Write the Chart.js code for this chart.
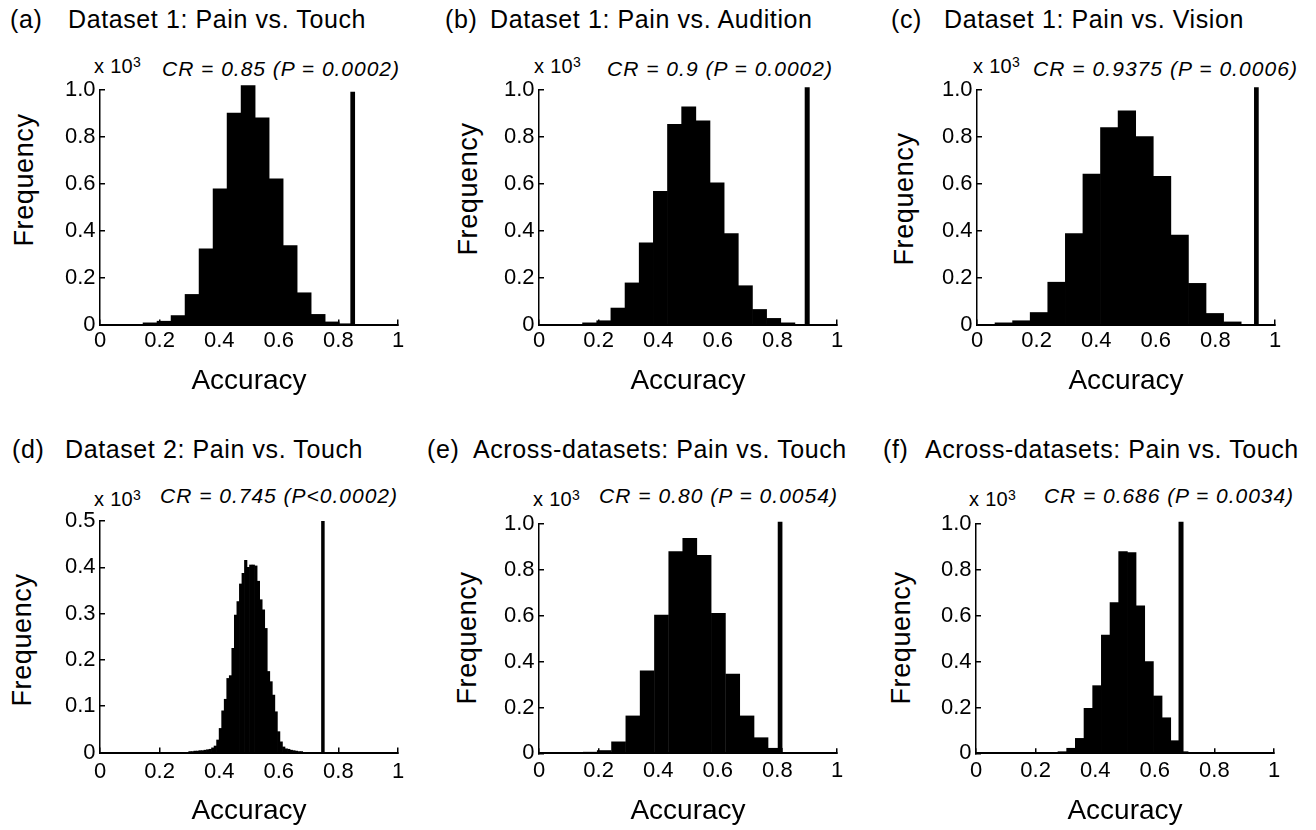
<!DOCTYPE html>
<html lang="en">
<head>
<meta charset="UTF-8">
<title>Permutation test: accuracy histograms</title>
<script src="https://cdn.jsdelivr.net/npm/chart.js"></script>
<style>
    html, body { margin: 0; padding: 0; background: #fff; }
    body {
        width: 1316px; height: 830px; position: relative; overflow: hidden;
        font-family: "Liberation Sans", Arial, sans-serif; color: #000;
    }
    .txt { position: absolute; white-space: pre; line-height: 1; }
    .panel-title { font-size: 25px; letter-spacing: 0.6px; }
    .scale-note { font-size: 20px; letter-spacing: 0.3px; }
    .scale-note span { position: relative; top: -0.45em; font-size: 14px; }
    .cr-note { font-size: 21px; font-style: italic; }
    .ylab { font-size: 27px; letter-spacing: 0.6px; transform: translate(-50%, -50%) rotate(-90deg); }
    .chart-box { position: absolute; width: 438px; height: 360px; }
</style>
</head>
<body>
<script>
    // ---- data (frequency in units of 10^3) ----
    const panelLetters = ['(a)', '(b)', '(c)', '(d)', '(e)', '(f)'];
    const panelTitles = [
        'Dataset 1: Pain vs. Touch',
        'Dataset 1: Pain vs. Audition',
        'Dataset 1: Pain vs. Vision',
        'Dataset 2: Pain vs. Touch',
        'Across-datasets: Pain vs. Touch',
        'Across-datasets: Pain vs. Touch'
    ];
    const crLabels = [
        'CR = 0.85 (P = 0.0002)',
        'CR = 0.9 (P = 0.0002)',
        'CR = 0.9375 (P = 0.0006)',
        'CR = 0.745 (P<0.0002)',
        'CR = 0.80 (P = 0.0054)',
        'CR = 0.686 (P = 0.0034)'
    ];
    const crValues = [0.848, 0.9, 0.9375, 0.748, 0.809, 0.688];
    const crTops = [0.99, 1.01, 1.01, 0.5, 1.01, 1.01];
    const yMaxes = [1, 1, 1, 0.5, 1, 1];

    const xTicks = [0, 0.2, 0.4, 0.6, 0.8, 1];
    const xTickLabels = ['0', '0.2', '0.4', '0.6', '0.8', '1'];
    const yTicks = [0, 0.2, 0.4, 0.6, 0.8, 1.0];
    const yTickLabels = ['0', '0.2', '0.4', '0.6', '0.8', '1.0'];
    const yTicksD = [0, 0.1, 0.2, 0.3, 0.4, 0.5];
    const yTickLabelsD = ['0', '0.1', '0.2', '0.3', '0.4', '0.5'];

    const binsA = [0.168, 0.215, 0.262, 0.309, 0.356, 0.403, 0.450, 0.497, 0.544, 0.591, 0.638, 0.685, 0.732, 0.779, 0.826];
    const freqA = [0.007, 0.014, 0.038, 0.128, 0.322, 0.577, 0.900, 1.017, 0.879, 0.620, 0.336, 0.135, 0.043, 0.011, 0.002];

    const binsB = [0.170, 0.2175, 0.265, 0.3125, 0.360, 0.4075, 0.455, 0.5025, 0.550, 0.5975, 0.645, 0.6925, 0.740, 0.7875, 0.835];
    const freqB = [0.007, 0.016, 0.070, 0.177, 0.348, 0.567, 0.852, 0.926, 0.867, 0.603, 0.387, 0.165, 0.064, 0.026, 0.007];

    const binsC = [0.090, 0.149, 0.208, 0.267, 0.326, 0.385, 0.444, 0.503, 0.562, 0.621, 0.680, 0.739, 0.798, 0.857];
    const freqC = [0.007, 0.016, 0.051, 0.180, 0.387, 0.640, 0.838, 0.909, 0.800, 0.630, 0.380, 0.175, 0.047, 0.011];

    const binsD = [0.302, 0.3105, 0.319, 0.3275, 0.336, 0.3445, 0.353, 0.3615, 0.370, 0.3785,
                   0.387, 0.3955, 0.404, 0.4125, 0.421, 0.4295, 0.438, 0.4465, 0.455, 0.4635,
                   0.472, 0.4805, 0.489, 0.4975, 0.506, 0.5145, 0.523, 0.5315, 0.540, 0.5485,
                   0.557, 0.5655, 0.574, 0.5825, 0.591, 0.5995, 0.608, 0.6165, 0.625, 0.6335,
                   0.642, 0.6505, 0.659, 0.6675, 0.676];
    const freqD = [0.002, 0.002, 0.003, 0.003, 0.004, 0.004, 0.005, 0.006, 0.007, 0.010,
                   0.014, 0.027, 0.052, 0.090, 0.115, 0.160, 0.166, 0.225, 0.297, 0.326,
                   0.364, 0.387, 0.415, 0.400, 0.405, 0.405, 0.403, 0.370, 0.330, 0.308,
                   0.268, 0.175, 0.153, 0.124, 0.088, 0.045, 0.023, 0.012, 0.008, 0.007,
                   0.005, 0.004, 0.003, 0.002, 0.002];

    const binsE = [0.124, 0.172, 0.219, 0.267, 0.315, 0.363, 0.411, 0.459, 0.506, 0.554, 0.602, 0.650, 0.698, 0.745, 0.793, 0.841, 0.889];
    const freqE = [0.002, 0.005, 0.012, 0.050, 0.163, 0.360, 0.603, 0.880, 0.937, 0.863, 0.610, 0.346, 0.163, 0.068, 0.022, 0.004, 0.002];

    const binsF = [0.2606, 0.2897, 0.3188, 0.3479, 0.3770, 0.4061, 0.4352, 0.4643, 0.4934, 0.5225, 0.5516, 0.5807, 0.6098, 0.6389, 0.6680, 0.6971, 0.7262];
    const freqF = [0.003, 0.007, 0.022, 0.065, 0.196, 0.295, 0.516, 0.657, 0.880, 0.875, 0.643, 0.400, 0.250, 0.155, 0.055, 0.007, 0.003];

    const allBins = [binsA, binsB, binsC, binsD, binsE, binsF];
    const allFreqs = [freqA, freqB, freqC, freqD, freqE, freqF];

    // ---- page layout (pixels) ----
    const FONT = '"Liberation Sans", Arial, sans-serif';
    const TICK_SIZE = 22;
    const ACC_SIZE = 28;
    const plotLeft = [100, 539, 977, 100, 539, 976];
    const plotTop = [89.5, 89.5, 89.5, 521, 524, 524];
    const plotBottom = [324.5, 324.5, 324.5, 752.5, 753.3, 753.3];
    const boxTop = [40, 40, 40, 470, 470, 470];
    const accCenter = [381, 381, 381, 811.5, 811, 811];
    const xLabelCenter = [16.5, 16.5, 16.5, 19, 17.5, 17.5];
    const crWidths = [4.7, 5, 4.7, 3.5, 4.7, 5];

    const titlePos = [[10, 68, 28], [445, 490, 28], [891, 944, 28], [12, 65, 458], [427, 473, 458], [883, 925, 458]];
    const notePos = [[94, 73], [534, 73], [973, 73], [94, 506], [533, 506], [969, 506]];
    const crPos = [[162, 76, 238], [607, 76, 226], [1033, 76, 265], [160, 503, 238], [599, 503, 239], [1044, 503, 250]];
    const freqPos = [[24, 180], [467.5, 189], [903.5, 199], [22, 640], [467, 638], [901, 638]];

    function addText(cls, text, left, baseline, size) {
        const el = document.createElement('div');
        el.className = 'txt ' + cls;
        el.textContent = text;
        el.style.left = left + 'px';
        el.style.top = (baseline - 0.8465 * size) + 'px';
        document.body.appendChild(el);
        return el;
    }

    function makePanel(i) {
        // texts
        addText('panel-title', panelLetters[i], titlePos[i][0], titlePos[i][2], 25);
        addText('panel-title', panelTitles[i], titlePos[i][1], titlePos[i][2], 25);
        const note = addText('scale-note', 'x 10', notePos[i][0], notePos[i][1], 20);
        const sup = document.createElement('span');
        sup.textContent = '3';
        note.appendChild(sup);
        const cr = addText('cr-note', crLabels[i], crPos[i][0], crPos[i][1], 21);
        cr.dataset.w = crPos[i][2];

        const yl = document.createElement('div');
        yl.className = 'txt ylab';
        yl.textContent = 'Frequency';
        yl.style.left = freqPos[i][0] + 'px';
        yl.style.top = freqPos[i][1] + 'px';
        document.body.appendChild(yl);

        // chart
        const box = document.createElement('div');
        box.className = 'chart-box';
        box.style.left = (plotLeft[i] - 100) + 'px';
        box.style.top = boxTop[i] + 'px';
        const canvas = document.createElement('canvas');
        box.appendChild(canvas);
        document.body.appendChild(box);

        const axisBottom = accCenter[i] + ACC_SIZE * 1.2 / 2;
        const xH = axisBottom - plotBottom[i];
        const isD = i === 3;
        const yT = isD ? yTicksD : yTicks;
        const yL = isD ? yTickLabelsD : yTickLabels;

        new Chart(canvas, {
            type: 'bar',
            data: {
                datasets: [
                    {
                        type: 'line',
                        data: [{ x: crValues[i], y: 0 }, { x: crValues[i], y: crTops[i] }],
                        borderColor: '#000',
                        borderWidth: crWidths[i],
                        borderCapStyle: 'butt',
                        pointRadius: 0,
                        clip: false,
                        order: 0
                    },
                    {
                        type: 'bar',
                        data: allBins[i].map((x, k) => ({ x: x, y: allFreqs[i][k] })),
                        backgroundColor: '#000',
                        borderWidth: 0,
                        barPercentage: 1,
                        categoryPercentage: 1,
                        grouped: false,
                        clip: false,
                        order: 1
                    }
                ]
            },
            options: {
                responsive: true,
                maintainAspectRatio: false,
                animation: false,
                events: [],
                layout: {
                    padding: {
                        left: 0,
                        right: 438 - 100 - 298,
                        top: plotTop[i] - boxTop[i],
                        bottom: boxTop[i] + 360 - axisBottom
                    }
                },
                plugins: { legend: { display: false }, tooltip: { enabled: false } },
                scales: {
                    x: {
                        type: 'linear',
                        min: 0,
                        max: 1,
                        offset: false,
                        afterBuildTicks: s => { s.ticks = xTicks.map(v => ({ value: v })); },
                        afterFit: s => { s.height = xH; },
                        grid: { offset: false, drawOnChartArea: false, drawTicks: true, tickLength: -5, color: '#000', lineWidth: 1.5 },
                        border: { display: true, color: '#000', width: 2 },
                        ticks: {
                            color: '#000',
                            font: { family: FONT, size: TICK_SIZE },
                            // label centre sits xLabelCenter px below the axis (tick marks point inward)
                            padding: xLabelCenter[i] - TICK_SIZE * 1.2 / 2 + 5,
                            maxRotation: 0,
                            autoSkip: false,
                            callback: (v, k) => xTickLabels[k]
                        },
                        title: {
                            display: true,
                            text: 'Accuracy',
                            color: '#000',
                            font: { family: FONT, size: ACC_SIZE },
                            padding: 0
                        }
                    },
                    y: {
                        type: 'linear',
                        min: 0,
                        max: yMaxes[i],
                        afterBuildTicks: s => { s.ticks = yT.map(v => ({ value: v })); },
                        afterFit: s => { s.width = 100; },
                        grid: { offset: false, drawOnChartArea: false, drawTicks: true, tickLength: -5, color: '#000', lineWidth: 1.5 },
                        border: { display: true, color: '#000', width: 1.5 },
                        ticks: {
                            color: '#000',
                            font: { family: FONT, size: TICK_SIZE },
                            padding: 9.5,
                            autoSkip: false,
                            callback: (v, k) => yL[k]
                        }
                    }
                }
            }
        });
    }

    for (let i = 0; i < 6; i++) makePanel(i);

    // stretch the CR notes to the width they take in the figure
    document.querySelectorAll('.cr-note').forEach(el => {
        const natural = el.getBoundingClientRect().width;
        const n = el.textContent.length;
        el.style.letterSpacing = ((Number(el.dataset.w) - natural) / n) + 'px';
    });
</script>
</body>
</html>
